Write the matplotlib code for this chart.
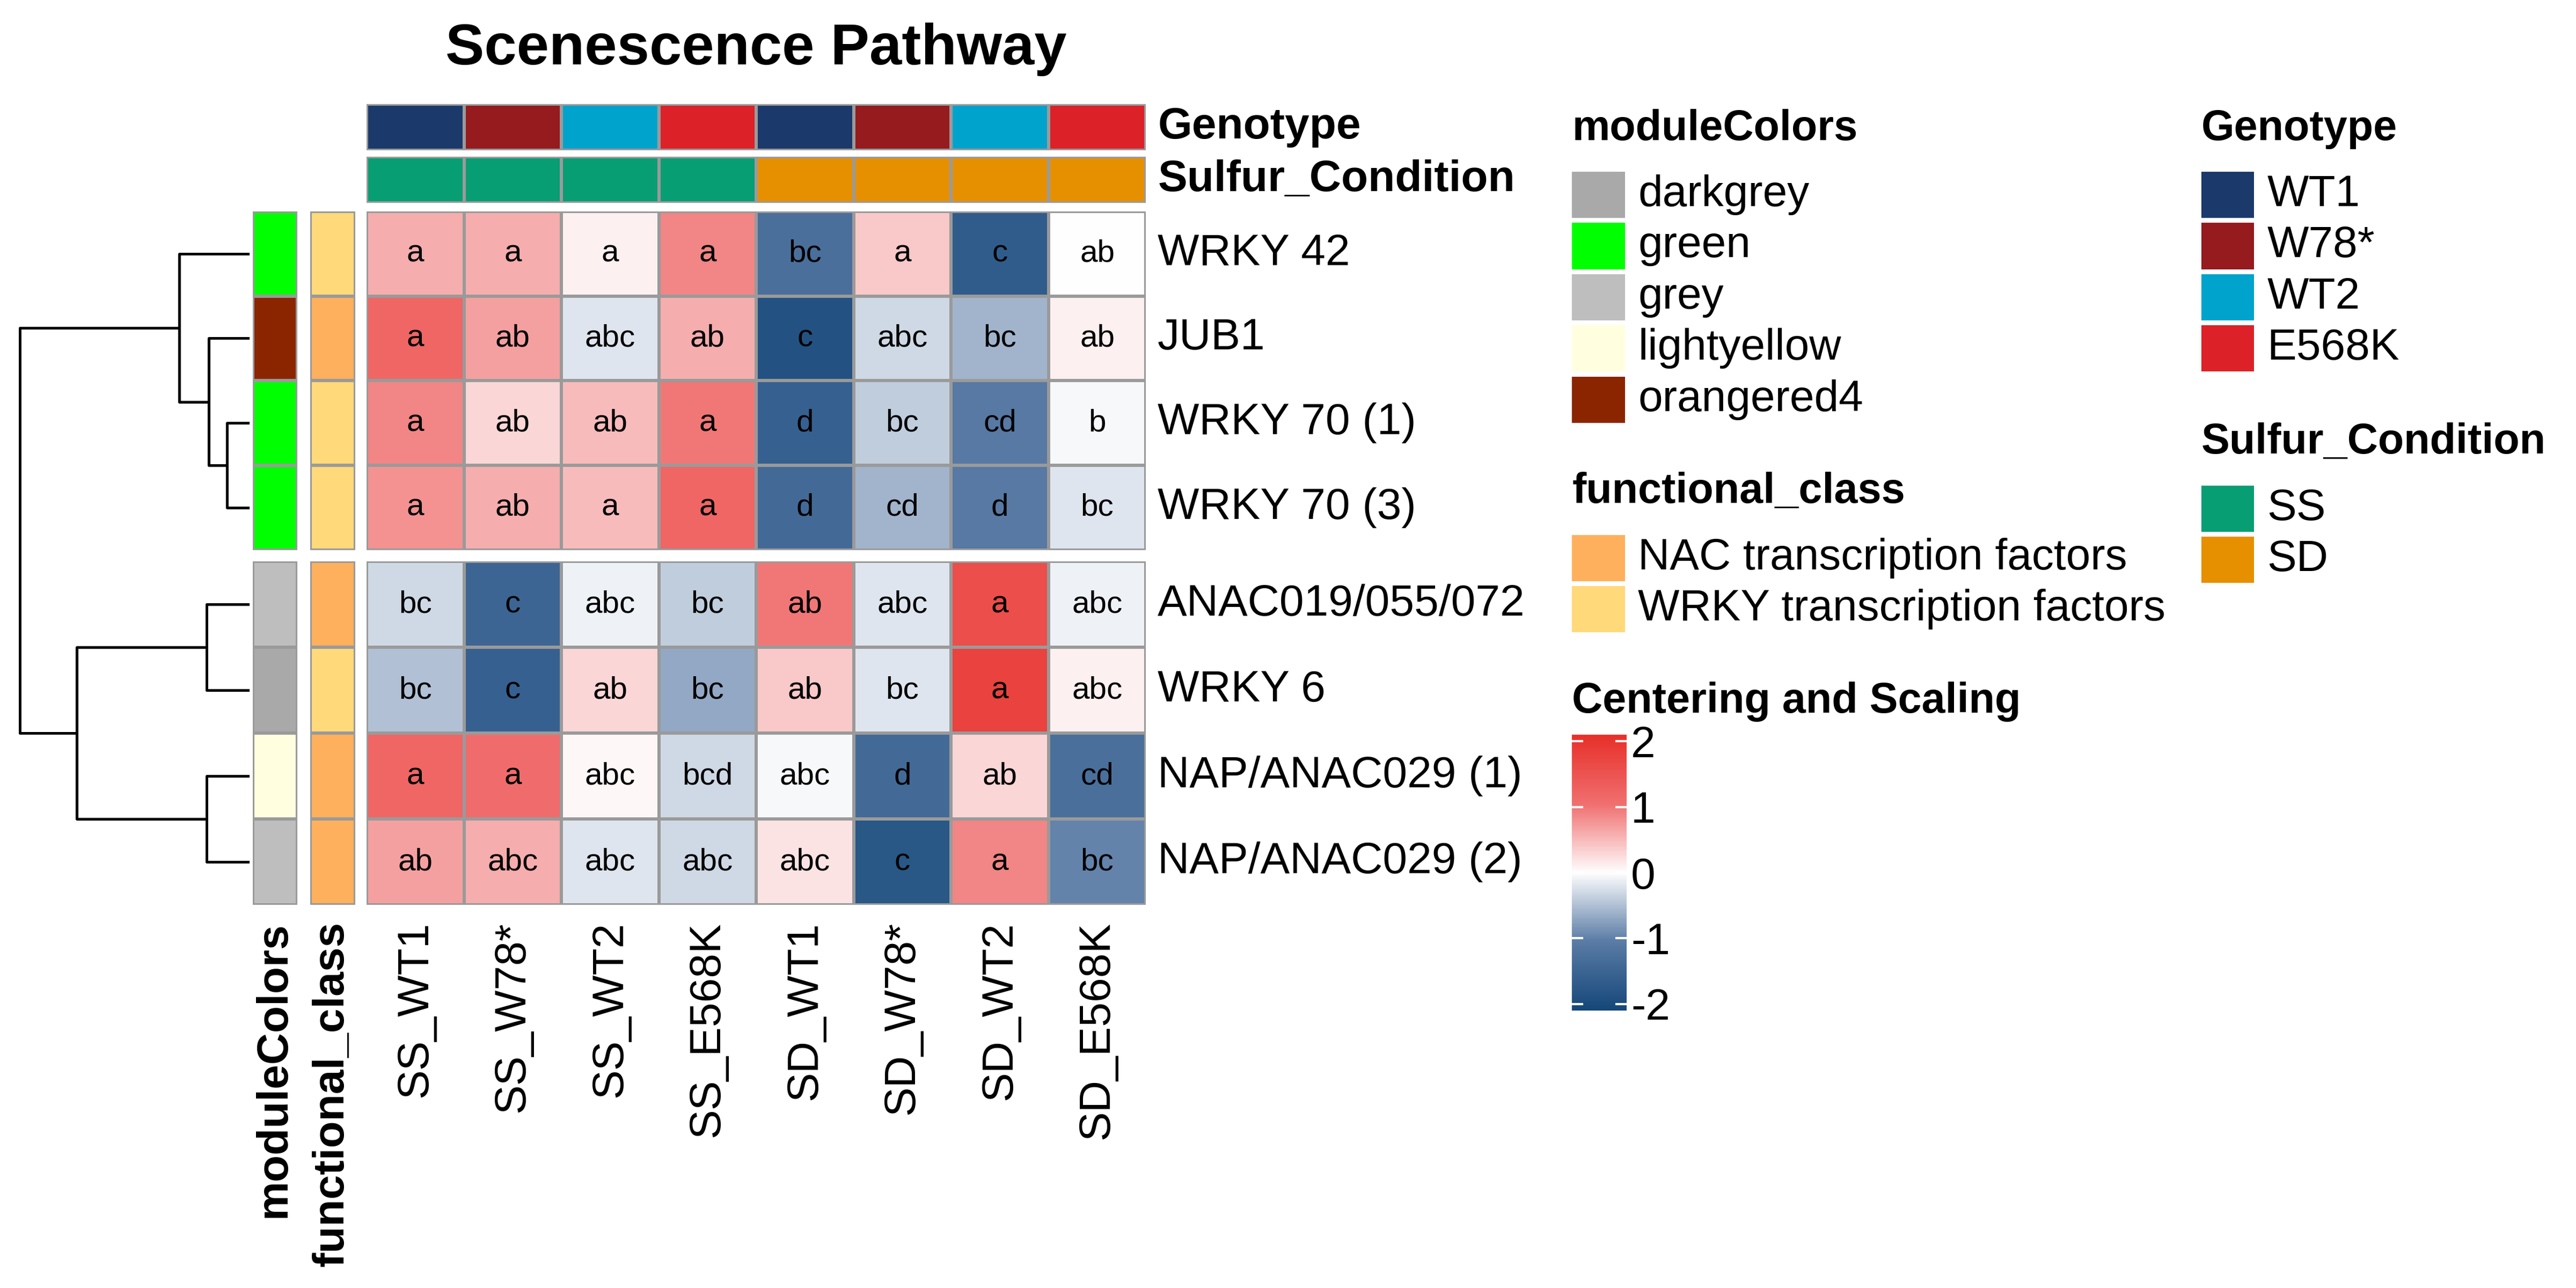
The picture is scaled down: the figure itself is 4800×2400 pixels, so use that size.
import numpy as np
import matplotlib
matplotlib.use("Agg")
import matplotlib.pyplot as plt
from matplotlib.colors import LinearSegmentedColormap, ListedColormap, Normalize
from matplotlib.patches import Rectangle

plt.rcParams["font.family"] = ["Liberation Sans", "DejaVu Sans"]

# ---- data ----
samples = ["SS_WT1", "SS_W78*", "SS_WT2", "SS_E568K", "SD_WT1", "SD_W78*", "SD_WT2", "SD_E568K"]
genes = ["WRKY 42", "JUB1", "WRKY 70 (1)", "WRKY 70 (3)",
         "ANAC019/055/072", "WRKY 6", "NAP/ANAC029 (1)", "NAP/ANAC029 (2)"]
zvals = [
    [0.6, 0.6, 0.1, 0.9, -1.3, 0.4, -1.7, 0.0],
    [1.2, 0.7, -0.2, 0.6, -1.9, -0.3, -0.6, 0.1],
    [0.9, 0.3, 0.5, 1.0, -1.6, -0.4, -1.1, -0.05],
    [0.8, 0.6, 0.5, 1.2, -1.4, -0.6, -1.1, -0.2],
    [-0.3, -1.5, -0.1, -0.4, 1.0, -0.2, 1.6, -0.1],
    [-0.5, -1.6, 0.3, -0.7, 0.4, -0.2, 1.8, 0.1],
    [1.2, 1.1, 0.05, -0.3, -0.05, -1.4, 0.3, -1.3],
    [0.7, 0.6, -0.2, -0.3, 0.2, -1.8, 0.9, -1.0],
]
letters = [
    ["a", "a", "a", "a", "bc", "a", "c", "ab"],
    ["a", "ab", "abc", "ab", "c", "abc", "bc", "ab"],
    ["a", "ab", "ab", "a", "d", "bc", "cd", "b"],
    ["a", "ab", "a", "a", "d", "cd", "d", "bc"],
    ["bc", "c", "abc", "bc", "ab", "abc", "a", "abc"],
    ["bc", "c", "ab", "bc", "ab", "bc", "a", "abc"],
    ["a", "a", "abc", "bcd", "abc", "d", "ab", "cd"],
    ["ab", "abc", "abc", "abc", "abc", "c", "a", "bc"],
]
genotype = ["WT1", "W78*", "WT2", "E568K", "WT1", "W78*", "WT2", "E568K"]
sulfur = ["SS", "SS", "SS", "SS", "SD", "SD", "SD", "SD"]
module_colors = ["green", "orangered4", "green", "green", "grey", "darkgrey", "lightyellow", "grey"]
functional = ["WRKY", "NAC", "WRKY", "WRKY", "NAC", "WRKY", "NAC", "NAC"]

genotype_pal = {"WT1": "#1B3A6B", "W78*": "#951B1E", "WT2": "#00A3CC", "E568K": "#DC2228"}
sulfur_pal = {"SS": "#089E73", "SD": "#E69000"}
module_pal = {"darkgrey": "#A9A9A9", "green": "#00FF00", "grey": "#BEBEBE",
              "lightyellow": "#FFFFE0", "orangered4": "#8B2500"}
func_pal = {"NAC": "#FFB05C", "WRKY": "#FFD97A"}
func_names = {"NAC": "NAC transcription factors", "WRKY": "WRKY transcription factors"}

# dendrogram merge heights (distance from the right edge, in tree units)
h_70 = 0.09      # WRKY70(1) + WRKY70(3)
h_jub = 0.17     # + JUB1
h_42 = 0.30      # + WRKY42
h_anac = 0.18    # ANAC019 + WRKY6
h_nap = 0.18     # NAP1 + NAP2
h_bot = 0.75     # bottom two pairs
h_root = 1.0

W, H = 1560, 780
fig = plt.figure(figsize=(24, 12), dpi=200)
FS = 29.5


def ax_at(x0, y0, x1, y1):
    return fig.add_axes([x0 / W, 1 - y1 / H, (x1 - x0) / W, (y1 - y0) / H])


cmap = LinearSegmentedColormap.from_list("cs", ["#16487A", "#5B7CA6", "#FFFFFF", "#F07070", "#E8302A"])
norm = Normalize(-2.1, 2.1)
z = np.array(zvals)

HX0, HX1 = 222, 694
blocks = [(0, 4, 128, 333), (4, 8, 340, 548)]
for r0, r1, y0, y1 in blocks:
    ax = ax_at(HX0, y0, HX1, y1)
    ax.pcolormesh(z[r0:r1], cmap=cmap, norm=norm, edgecolors="#9A9A9A", linewidth=1.6)
    ax.set_xlim(0, 8); ax.set_ylim(r1 - r0, 0)
    ax.axis("off")
    for i in range(r0, r1):
        for j in range(8):
            ax.text(j + 0.5, i - r0 + 0.5, letters[i][j], ha="center", va="center", fontsize=21)
        ax.text(8.12, i - r0 + 0.5, genes[i], ha="left", va="center", fontsize=FS)
    # left annotations
    for vals, pal, x0 in [(module_colors, module_pal, 153), (functional, func_pal, 188)]:
        a = ax_at(x0, y0, x0 + 27, y1)
        cats = list(pal)
        idx = np.array([[cats.index(v)] for v in vals[r0:r1]])
        a.pcolormesh(idx, cmap=ListedColormap([pal[c] for c in cats]), vmin=-0.5, vmax=len(cats) - 0.5,
                     edgecolors="#9A9A9A", linewidth=1.6)
        a.set_ylim(r1 - r0, 0); a.axis("off")

# top annotations
for vals, pal, y0, name in [(genotype, genotype_pal, 63, "Genotype"), (sulfur, sulfur_pal, 95, "Sulfur_Condition")]:
    a = ax_at(HX0, y0, HX1, y0 + 28)
    cats = list(pal)
    idx = np.array([[cats.index(v) for v in vals]])
    a.pcolormesh(idx, cmap=ListedColormap([pal[c] for c in cats]), vmin=-0.5, vmax=len(cats) - 0.5,
                 edgecolors="#9A9A9A", linewidth=1.6)
    a.set_xlim(0, 8); a.axis("off")
    a.text(8.12, 0.5, name, ha="left", va="center", fontsize=FS, fontweight="bold")

# overlay for text, dendrogram and legends (pixel coordinates)
ov = fig.add_axes([0, 0, 1, 1], zorder=-1)
ov.set_xlim(0, W); ov.set_ylim(H, 0); ov.axis("off")
ov.text(458, 30, "Scenescence Pathway", ha="center", va="center", fontsize=39, fontweight="bold")

cw = (HX1 - HX0) / 8
for j, s in enumerate(samples):
    ov.text(HX0 + cw * (j + 0.5), 558, s, rotation=90, ha="center", va="top", fontsize=FS)
ov.text(166, 558, "moduleColors", rotation=90, ha="center", va="top", fontsize=FS, fontweight="bold")
ov.text(201, 558, "functional_class", rotation=90, ha="center", va="top", fontsize=FS, fontweight="bold")

# dendrogram
centers = []
for r0, r1, y0, y1 in blocks:
    rh = (y1 - y0) / (r1 - r0)
    centers += [y0 + rh * (i + 0.5) for i in range(r1 - r0)]
dx0, dx1 = 12, 150
def hx(h):
    return dx1 - h * (dx1 - dx0)
def link(ya, ha_, yb, hb, h):
    ov.plot([hx(ha_), hx(h), hx(h), hx(hb)], [ya, ya, yb, yb], color="black", lw=1.8)
    return (ya + yb) / 2
m70 = link(centers[2], 0, centers[3], 0, h_70)
mj = link(centers[1], 0, m70, h_70, h_jub)
mt = link(centers[0], 0, mj, h_jub, h_42)
ma = link(centers[4], 0, centers[5], 0, h_anac)
mn = link(centers[6], 0, centers[7], 0, h_nap)
mb = link(ma, h_anac, mn, h_nap, h_bot)
link(mt, h_42, mb, h_bot, h_root)


def legend(x, y, title, items):
    ov.text(x, y, title, ha="left", va="center", fontsize=FS - 1, fontweight="bold")
    for i, (lab, col) in enumerate(items):
        yy = y + 40 + i * 31
        ov.add_patch(Rectangle((x, yy - 14), 32, 28, facecolor=col, edgecolor="none"))
        ov.text(x + 40, yy, lab, ha="left", va="center", fontsize=FS)

legend(952, 78, "moduleColors", [(k, v) for k, v in module_pal.items()])
legend(952, 298, "functional_class", [(func_names[k], v) for k, v in func_pal.items()])
legend(1333, 78, "Genotype", [(k, v) for k, v in genotype_pal.items()])
legend(1333, 268, "Sulfur_Condition", [(k, v) for k, v in sulfur_pal.items()])

ov.text(952, 425, "Centering and Scaling", ha="left", va="center", fontsize=FS - 1, fontweight="bold")
cax = ax_at(952, 445, 985, 612)
grad = np.linspace(2.1, -2.1, 200).reshape(-1, 1)
cax.imshow(grad, aspect="auto", cmap=cmap, norm=norm, extent=[0, 1, -2.1, 2.1])
cax.set_xticks([])
cax.yaxis.tick_right()
cax.set_yticks([-2, -1, 0, 1, 2])
cax.set_yticklabels(["-2", "-1", "0", "1", "2"], fontsize=FS)
cax.tick_params(axis="y", length=0, pad=3)
for t in [-2, -1, 0, 1, 2]:
    cax.plot([0, 0.18], [t, t], color="white", lw=1.5)
    cax.plot([0.82, 1], [t, t], color="white", lw=1.5)
cax.set_xlim(0, 1); cax.set_ylim(-2.1, 2.1)
for s in cax.spines.values():
    s.set_visible(False)

fig.savefig("out.png", dpi=200, facecolor="white")
